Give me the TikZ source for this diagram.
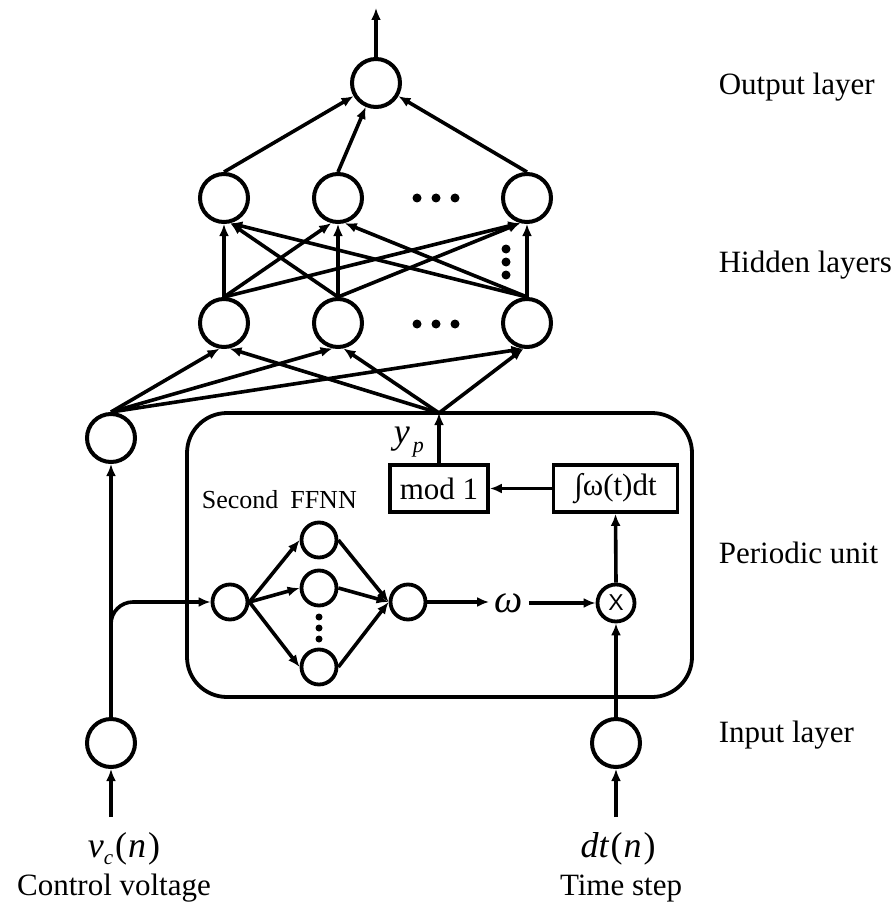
\documentclass[tikz,border=0pt]{standalone}
\usepackage{fontspec}
\setmainfont{Liberation Serif}
\newfontfamily\xsans{Liberation Sans}
\usetikzlibrary{arrows.meta}

\begin{document}
\begin{tikzpicture}[x=1pt,y=-1pt,line width=3.6pt,
  neuron/.style={circle,draw,line width=4pt,minimum size=48pt,inner sep=0pt},
  subneuron/.style={circle,draw,line width=3.8pt,minimum size=35pt,inner sep=0pt},
  blockbox/.style={draw,rectangle,line width=3.8pt,inner sep=0pt,minimum height=47pt,
    font=\fontsize{31}{36}\selectfont},
  arr/.style={-{Latex[length=12pt,width=10pt]}},
  layerlbl/.style={anchor=base west,inner sep=0pt,font=\fontsize{31}{36}\selectfont},
  caption/.style={anchor=base,inner sep=0pt,font=\fontsize{31}{36}\selectfont},
  mathlbl/.style={anchor=base,inner sep=0pt,font=\fontsize{36}{40}\selectfont},
  bigdot/.style={circle,fill,inner sep=0pt,minimum size=9pt}]

\useasboundingbox (0,0) rectangle (895,909);

% output layer
\node[neuron] (out) at (376,83) {};
\coordinate (yout) at (376,8);

% hidden layers
\node[neuron] (t1) at (224,198) {};
\node[neuron] (t2) at (338,198) {};
\node[neuron] (t3) at (527,198) {};
\node[neuron] (b1) at (224,323) {};
\node[neuron] (b2) at (338,323) {};
\node[neuron] (b3) at (527,323) {};

% dots between neurons
\foreach \x [count=\i] in {417,436,455} {
  \node[bigdot] (dt\i) at (\x,198) {};
  \node[bigdot] (db\i) at (\x,324) {};
}
\foreach \y [count=\i] in {249,262,275} {
  \node[bigdot] (dv\i) at (506,\y) {};
}

% control voltage path
\node[neuron] (vin) at (111,743) {};
\node[neuron] (vmid) at (111,438) {};
\coordinate (vsrc) at (111,817);
\coordinate (branch) at (111,660);

% periodic unit
\node[draw,rectangle,rounded corners=40pt,line width=3.8pt,
      minimum width=505pt,minimum height=284pt,inner sep=0pt] (pu) at (439.5,555) {};
\coordinate (jp) at (439,413);

\node[blockbox,minimum width=98pt] (mod) at (439,488.5) {mod 1};
\node[blockbox,minimum width=124pt] (intg) at (615.5,488.5) {∫ω(t)dt};
\node[circle,draw,line width=3.8pt,minimum size=37pt,inner sep=0pt,
      font=\xsans\fontsize{23}{23}\selectfont] (mul) at (616,603) {X};

% second FFNN
\node[subneuron] (fin) at (230,602) {};
\node[subneuron] (f1) at (319,540) {};
\node[subneuron] (f2) at (319,588) {};
\node[subneuron] (f3) at (319,667) {};
\node[subneuron] (fout) at (408,602) {};
\foreach \y [count=\i] in {617,628,639} {
  \node[circle,fill,inner sep=0pt,minimum size=7pt] (fd\i) at (319,\y) {};
}
\node[anchor=base west,inner sep=0pt,font=\fontsize{26}{30}\selectfont] (ffnnlbl)
  at (200,508) {Second\kern12pt FFNN};

\node[anchor=base,inner sep=4pt,font=\fontsize{40}{44}\selectfont] (om)
  at (509,612) {\itshape ω};

% time step path
\node[neuron] (tin) at (616,743) {};
\coordinate (tsrc) at (616,817);

% ---- connectors ----
\draw[arr] (out.north) -- (yout);
\foreach \t in {t1,t2,t3} \draw[arr] (\t.north) -- (out);

\draw[arr] (b1.north) -- (t1.south);
\draw[arr] (b1.north) -- (t2.-105);
\draw[arr] (b1.north) -- (t3.-105);
\draw[arr] (b2.north) -- (t1.-76);
\draw[arr] (b2.north) -- (t2.south);
\draw[arr] (b2.north) -- (t3.-105);
\draw[arr] (b3.north) -- (t1.-76);
\draw[arr] (b3.north) -- (t2.-75);
\draw[arr] (b3.north) -- (t3.south);

\draw[arr] (vmid.north) -- (b1.-100);
\draw[arr] (vmid.north) -- (b2.-102);
\draw[arr] (vmid.north) -- (b3.-98);
\draw[arr] (jp) -- (b1.-78);
\draw[arr] (jp) -- (b2.-78);
\draw[arr] (jp) -- (b3.-98);

\draw[arr] (vsrc) -- (vin.south);
\draw[arr] (vin.north) -- (vmid.south);
\draw[arr,rounded corners=22pt] (branch) |- (fin.west);

\draw[arr] (fin.east) -- (f1.west);
\draw[arr] (fin.east) -- (f2.west);
\draw[arr] (fin.east) -- (f3.west);
\draw[arr] (f1.east) -- (fout.west);
\draw[arr] (f2.east) -- (fout.west);
\draw[arr] (f3.east) -- (fout.west);
\draw[arr] (fout.east) -- (om.west |- fout.east);
\draw[arr] (om.east |- mul.west) -- (mul.west);

\draw[arr] (tsrc) -- (tin.south);
\draw[arr] (tin.north) -- (mul.south);
\draw[arr] (mul.north) -- (intg.south);
\draw[arr] (intg.west) -- (mod.east);
\draw[arr] (mod.north) -- (jp);

% ---- labels ----
\node[anchor=base west,inner sep=0pt,font=\fontsize{36}{40}\selectfont] (yp) at (392,443)
  {\itshape y\kern3pt\raisebox{-9pt}{\fontsize{22}{22}\selectfont p}};

\node[layerlbl] (lout) at (717,95) {Output layer};
\node[layerlbl] (lhid) at (717,272) {Hidden layers};
\node[layerlbl] (lper) at (717,563) {Periodic unit};
\node[layerlbl] (linp) at (717,742) {Input layer};

\node[mathlbl] (vclbl) at (124,857)
  {\itshape v\raisebox{-7pt}{\fontsize{21}{21}\selectfont c}\kern2pt\upshape(\kern1pt\itshape n\kern2pt\upshape)};
\node[caption] (cvlbl) at (114,895) {Control voltage};
\node[mathlbl] (dtlbl) at (618,857)
  {\itshape dt\kern2pt\upshape(\kern1pt\itshape n\kern2pt\upshape)};
\node[caption] (tslbl) at (621,895) {Time step};

\end{tikzpicture}
\end{document}
